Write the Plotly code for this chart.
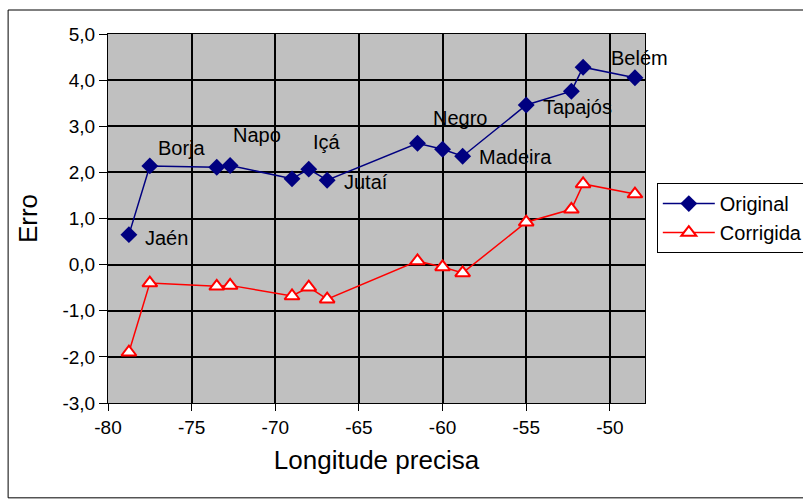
import plotly.graph_objects as go

longitude = [-78.75, -77.5, -73.5, -72.7, -69.0, -68.0, -66.9, -61.5, -60.0, -58.8, -55.0, -52.3, -51.6, -48.5]
original = [0.65, 2.14, 2.11, 2.15, 1.86, 2.07, 1.83, 2.63, 2.50, 2.35, 3.46, 3.76, 4.28, 4.05]
corrigida = [-1.90, -0.40, -0.47, -0.45, -0.68, -0.49, -0.75, 0.08, -0.05, -0.18, 0.92, 1.20, 1.75, 1.53]

# station labels: (index into series, text, xanchor, xshift, yshift)
labels = [
    (0, "Jaén", "left", 14, -3),
    (1, "Borja", "left", 6, 18),
    (3, "Napo", "left", 1, 30),
    (5, "Içá", "left", 2, 27),
    (6, "Jutaí", "left", 15, -2),
    (8, "Negro", "left", -12, 31),
    (9, "Madeira", "left", 14, -1),
    (10, "Tapajós", "left", 15, -2),
    (13, "Belém", "center", 5, 20),
]

x_ticks = [-80, -75, -70, -65, -60, -55, -50]
y_ticks = [-3, -2, -1, 0, 1, 2, 3, 4, 5]
y_tick_text = ["-3,0", "-2,0", "-1,0", "0,0", "1,0", "2,0", "3,0", "4,0", "5,0"]

FONT = "Liberation Sans, Arial, sans-serif"

fig = go.Figure()
fig.add_trace(go.Scatter(
    x=longitude, y=original, mode="lines+markers", name="Original",
    line=dict(color="#000080", width=1.5),
    marker=dict(symbol="diamond", size=13, color="#000080"),
))
fig.add_trace(go.Scatter(
    x=longitude, y=corrigida, mode="lines+markers", name="Corrigida",
    line=dict(color="#FF0000", width=1.5),
    marker=dict(symbol="triangle-up", size=13, color="white",
                line=dict(color="#FF0000", width=2)),
))

annotations = []
for idx, text, xa, xs, ys in labels:
    annotations.append(dict(
        x=longitude[idx], y=original[idx], text=text, showarrow=False,
        xanchor=xa, yanchor="middle", xshift=xs, yshift=ys,
        font=dict(family=FONT, size=20, color="black"),
    ))

fig.update_layout(
    width=803, height=502,
    margin=dict(l=108, r=158, t=34, b=99, autoexpand=False),
    paper_bgcolor="white", plot_bgcolor="#C0C0C0",
    font=dict(family=FONT, size=18, color="black"),
    showlegend=True,
    legend=dict(x=1.022, y=0.596, xanchor="left", yanchor="top",
                bgcolor="white", bordercolor="black", borderwidth=1,
                font=dict(family=FONT, size=20, color="black"),
                itemwidth=52, tracegroupgap=0),
    annotations=annotations,
    shapes=[dict(type="rect", xref="paper", yref="paper",
                 x0=-0.186, x1=1.35, y0=-0.257, y1=1.065,
                 line=dict(color="black", width=1), fillcolor="rgba(0,0,0,0)",
                 layer="above")],
)
fig.update_xaxes(
    range=[-80, -47.9], tickvals=x_ticks, ticktext=[str(v) for v in x_ticks],
    showgrid=True, gridcolor="black", gridwidth=1.5,
    showline=True, linecolor="black", linewidth=1, mirror=True,
    ticks="outside", ticklen=7, tickcolor="black",
    zeroline=False, automargin=False,
    title=dict(text="Longitude precisa", font=dict(family=FONT, size=26), standoff=14),
    tickfont=dict(family=FONT, size=19),
)
fig.update_yaxes(
    range=[-3, 5], tickvals=y_ticks, ticktext=y_tick_text,
    showgrid=True, gridcolor="black", gridwidth=1.5,
    showline=True, linecolor="black", linewidth=1, mirror=True,
    ticks="outside", ticklen=8, tickcolor="black",
    zeroline=False, automargin=False,
    title=dict(text="Erro", font=dict(family=FONT, size=26), standoff=17),
    tickfont=dict(family=FONT, size=19),
)

fig.write_html("out.html", config={"displayModeBar": False},
               post_script="document.body.style.margin='0';")
